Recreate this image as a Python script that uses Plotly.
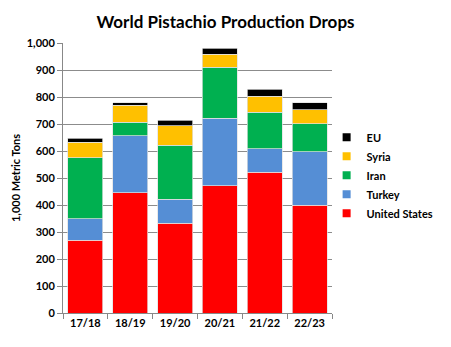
import plotly.graph_objects as go

# Marketing years
years = ["17/18", "18/19", "19/20", "20/21", "21/22", "22/23"]

# Production by origin, 1,000 metric tons
united_states = [270, 445, 333, 472, 522, 400]
turkey = [80, 212, 88, 250, 87, 198]
iran = [225, 50, 201, 189, 134, 103]
syria = [57, 62, 71, 47, 59, 52]
eu = [16, 10, 21, 22, 26, 25]

series = [
    ("United States", united_states, "#FF0000"),
    ("Turkey", turkey, "#558ED5"),
    ("Iran", iran, "#00B050"),
    ("Syria", syria, "#FFC000"),
    ("EU", eu, "#000000"),
]

font_family = "Lato, 'Open Sans', 'Liberation Sans', sans-serif"

fig = go.Figure()

# Stacked bars, bottom to top
for name, values, color in series:
    fig.add_trace(go.Bar(
        name=name,
        x=years,
        y=values,
        showlegend=False,
        marker=dict(color=color, line=dict(color="rgba(225,225,225,0.9)", width=0.8)),
    ))

# Legend keys with small square swatches, listed top of the stack first
for name, values, color in reversed(series):
    fig.add_trace(go.Scatter(
        name=f"<b>{name}</b>",
        x=[None], y=[None],
        mode="markers",
        marker=dict(symbol="square", size=8, color=color),
        hoverinfo="skip",
    ))

fig.update_layout(
    width=451,
    height=347,
    barmode="stack",
    bargap=0.22,
    paper_bgcolor="white",
    plot_bgcolor="white",
    margin=dict(l=63, r=104, t=43, b=34),
    font=dict(family=font_family, size=11, color="#000000"),
    title=dict(
        text="<b>World Pistachio Production Drops</b>",
        x=0.5, xanchor="center",
        y=1 - 22 / 347, yanchor="middle",
        font=dict(size=17, family=font_family, color="#000000"),
    ),
    legend=dict(
        traceorder="normal",
        x=0.98, xanchor="left",
        y=0.51, yanchor="middle",
        font=dict(size=11, family=font_family),
        itemwidth=30,
        tracegroupgap=0,
        bgcolor="rgba(0,0,0,0)",
    ),
    showlegend=True,
)

fig.update_xaxes(
    showline=True, linecolor="#888888", linewidth=1,
    ticks="outside", tickson="boundaries", ticklen=5, tickcolor="#888888",
    tickfont=dict(size=11, family=font_family),
    tickprefix="<b>", ticksuffix="</b>",
)

fig.update_yaxes(
    range=[0, 1000],
    tickvals=list(range(0, 1001, 100)),
    ticktext=[f"<b>{v:,}</b>" for v in range(0, 1001, 100)],
    showgrid=True, gridcolor="#8c8c8c", gridwidth=1,
    showline=True, linecolor="#888888", linewidth=1,
    ticks="outside", ticklen=5, tickcolor="#888888",
    tickfont=dict(size=11, family=font_family),
    title=dict(text="<b>1,000 Metric Tons</b>", font=dict(size=11, family=font_family), standoff=3),
    zeroline=False,
)

fig.write_html("out.html")
